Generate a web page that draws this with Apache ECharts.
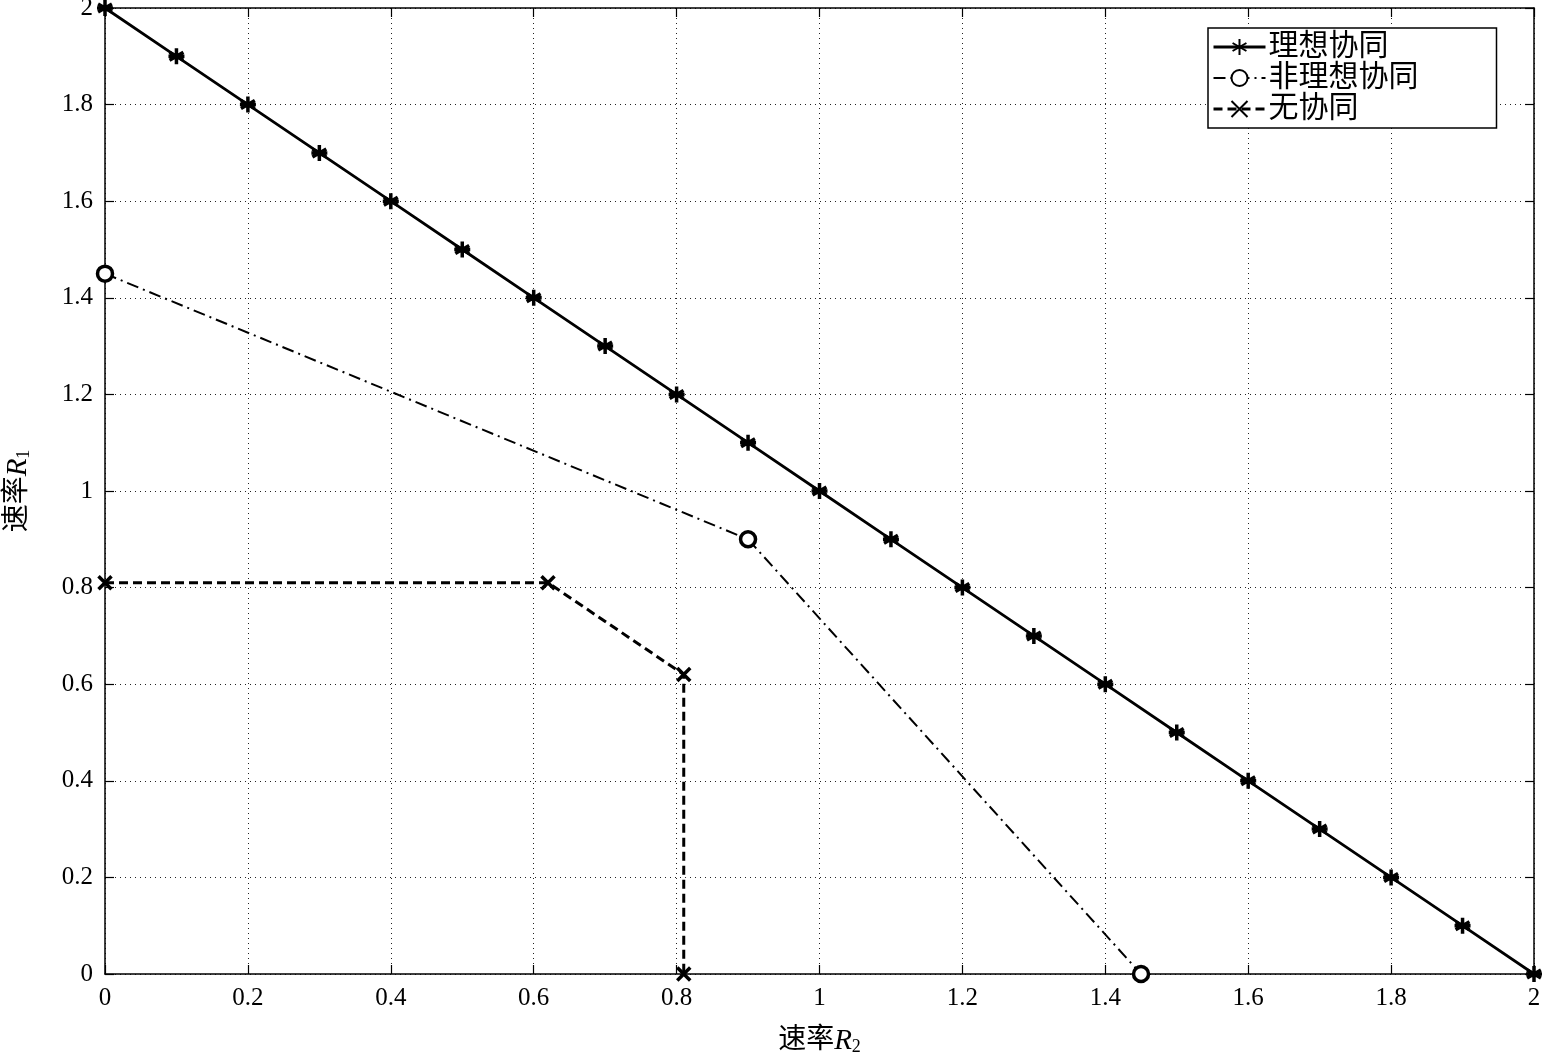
<!DOCTYPE html>
<html><head><meta charset="utf-8">
<script src="https://cdn.jsdelivr.net/npm/echarts@6/dist/echarts.min.js"></script>
<style>html,body{margin:0;padding:0;background:#fff}#c{width:1543px;height:1057px}</style>
</head><body><div id="c"></div>
<script>
const idealX = [0,0.1,0.2,0.3,0.4,0.5,0.6,0.7,0.8,0.9,1.0,1.1,1.2,1.3,1.4,1.5,1.6,1.7,1.8,1.9,2.0];
const idealY = [2.0,1.9,1.8,1.7,1.6,1.5,1.4,1.3,1.2,1.1,1.0,0.9,0.8,0.7,0.6,0.5,0.4,0.3,0.2,0.1,0];
const nonIdealX = [0,0.9,1.45];
const nonIdealY = [1.45,0.9,0];
const noCoopX = [0,0.62,0.81,0.81];
const noCoopY = [0.81,0.81,0.62,0];
const seriesNames = ['理想协同','非理想协同','无协同'];

const pair = (xs, ys) => xs.map((x,i)=>[x, ys[i]]);
const FONT = '"Liberation Serif", "Noto Sans CJK SC", serif';
const asterisk = 'path://M0,-10L0,10M-8.66,-5L8.66,5M-8.66,5L8.66,-5M-10,0L10,0';
const cross = 'path://M-10,-10L10,10M-10,10L10,-10';

const chart = echarts.init(document.getElementById('c'));
const axisCommon = {
  type:'value', min:0, max:2, interval:0.2,
  axisLine:{show:true, onZero:false, lineStyle:{color:'#000', width:1.5}},
  axisTick:{show:true, inside:true, length:9, lineStyle:{color:'#000', width:1.2}},
  minorTick:{show:false}
};
const nameRich = {
  a:{fontFamily:FONT, fontSize:28, color:'#000'},
  b:{fontFamily:'"Liberation Serif", serif', fontStyle:'italic', fontSize:29, color:'#000'},
  s:{fontFamily:'"Liberation Serif", serif', fontSize:18, color:'#000', verticalAlign:'bottom', padding:[12,0,0,0]}
};
const mkTickLabel = () => ({fontFamily:'"Liberation Serif", serif', fontSize:25, color:'#000', margin:12,
  formatter:v=>String(Math.round(v*10)/10)});
chart.setOption({
  animation:false,
  backgroundColor:'#fff',
  grid:{left:105, right:9, top:8, bottom:83, containLabel:false, outerBoundsMode:'none'},
  legend:{
    data:[
      {name:seriesNames[0], lineStyle:{width:3}},
      {name:seriesNames[1], lineStyle:{width:2}},
      {name:seriesNames[2], lineStyle:{width:3}}
    ],
    orient:'vertical', left:1208, top:28,
    itemWidth:52, itemHeight:20, itemGap:1,
    padding:[4,78,4,4],
    backgroundColor:'#fff', borderColor:'#000', borderWidth:1.5,
    textStyle:{fontFamily:FONT, fontSize:30, color:'#000', padding:[0,0,0,-2]},
    selectedMode:false
  },
  xAxis:[
    Object.assign({}, axisCommon, {
      position:'bottom',
      name:'{a|速率}{b|R}{s|2}', nameLocation:'middle', nameGap:52,
      nameTextStyle:{rich:nameRich},
      axisLabel:mkTickLabel(),
      splitLine:{show:true, lineStyle:{color:'#222', width:1, type:[1,4]}}
    }),
    Object.assign({}, axisCommon, {position:'top', axisLabel:{show:false}, splitLine:{show:false}})
  ],
  yAxis:[
    Object.assign({}, axisCommon, {
      position:'left',
      name:'{a|速率}{b|R}{s|1}', nameLocation:'middle', nameGap:72, nameRotate:90,
      nameTextStyle:{rich:nameRich},
      axisLabel:mkTickLabel(),
      splitLine:{show:true, lineStyle:{color:'#222', width:1, type:[1,4]}}
    }),
    Object.assign({}, axisCommon, {position:'right', axisLabel:{show:false}, splitLine:{show:false}})
  ],
  series:[
    {name:seriesNames[0], type:'line', data:pair(idealX, idealY),
      symbol:asterisk, symbolSize:16, showAllSymbol:true,
      lineStyle:{color:'#000', width:2.8, type:'solid'},
      itemStyle:{color:'#000', borderColor:'#000', borderWidth:3.5}, z:5},
    {name:seriesNames[1], type:'line', data:pair(nonIdealX, nonIdealY),
      symbol:'circle', symbolSize:15,
      lineStyle:{color:'#000', width:2, type:[12,5,2,5]},
      itemStyle:{color:'#fff', borderColor:'#000', borderWidth:3.5}, z:4},
    {name:seriesNames[2], type:'line', data:pair(noCoopX, noCoopY),
      symbol:cross, symbolSize:13,
      lineStyle:{color:'#000', width:3, type:[9,5]},
      itemStyle:{color:'#000', borderColor:'#000', borderWidth:3.5}, z:3}
  ]
});
</script></body></html>
